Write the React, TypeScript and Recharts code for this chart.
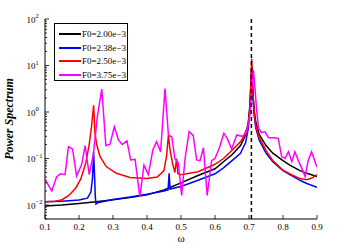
import { LineChart, Line, XAxis, YAxis, ReferenceLine } from "recharts";

// omega grid and power readings for each forcing amplitude
const F200_W = [0.1, 0.15, 0.2, 0.25, 0.3, 0.35, 0.4, 0.45, 0.5, 0.55, 0.6, 0.625, 0.65, 0.675, 0.69, 0.698, 0.703, 0.706, 0.708, 0.711, 0.715, 0.72, 0.73, 0.75, 0.77, 0.8, 0.82, 0.85, 0.87, 0.9];
const F200_P = [0.0095, 0.01, 0.0108, 0.0118, 0.013, 0.0145, 0.0165, 0.021, 0.03, 0.043, 0.06, 0.085, 0.12, 0.19, 0.32, 0.6, 1.5, 5, 10, 3, 1.1, 0.6, 0.33, 0.19, 0.13, 0.09, 0.072, 0.055, 0.048, 0.041];

const F238_W = [0.1, 0.15, 0.2, 0.225, 0.235, 0.24, 0.243, 0.245, 0.248, 0.25, 0.255, 0.3, 0.35, 0.4, 0.45, 0.462, 0.465, 0.468, 0.5, 0.55, 0.6, 0.625, 0.65, 0.675, 0.69, 0.698, 0.703, 0.706, 0.708, 0.711, 0.715, 0.72, 0.73, 0.75, 0.77, 0.8, 0.82, 0.85, 0.87, 0.9];
const F238_P = [0.0118, 0.012, 0.0128, 0.014, 0.019, 0.04, 0.14, 0.06, 0.015, 0.0105, 0.0112, 0.0132, 0.0148, 0.017, 0.02, 0.021, 0.048, 0.022, 0.025, 0.034, 0.047, 0.063, 0.09, 0.13, 0.22, 0.45, 1.2, 4, 9, 2.5, 0.9, 0.45, 0.25, 0.13, 0.085, 0.055, 0.045, 0.034, 0.029, 0.024];

const F250_W = [0.1, 0.13, 0.15, 0.17, 0.19, 0.205, 0.22, 0.23, 0.237, 0.243, 0.247, 0.252, 0.262, 0.28, 0.31, 0.35, 0.4, 0.43, 0.45, 0.458, 0.463, 0.468, 0.475, 0.482, 0.487, 0.491, 0.5, 0.55, 0.6, 0.625, 0.65, 0.675, 0.685, 0.69, 0.692, 0.698, 0.703, 0.706, 0.708, 0.711, 0.715, 0.72, 0.73, 0.75, 0.77, 0.8, 0.83, 0.85, 0.87, 0.885, 0.9];
const F250_P = [0.0118, 0.012, 0.013, 0.016, 0.023, 0.036, 0.08, 0.2, 0.5, 1.4, 0.35, 0.2, 0.11, 0.067, 0.048, 0.039, 0.037, 0.04, 0.055, 0.12, 0.32, 0.15, 0.08, 0.05, 0.1, 0.047, 0.045, 0.052, 0.075, 0.1, 0.15, 0.23, 0.3, 0.38, 0.33, 0.55, 1.3, 5, 14, 3, 1.0, 0.5, 0.28, 0.15, 0.09, 0.056, 0.043, 0.037, 0.035, 0.038, 0.045];

const F375_W = [0.1, 0.12, 0.134, 0.146, 0.159, 0.169, 0.181, 0.193, 0.208, 0.218, 0.23, 0.242, 0.254, 0.267, 0.279, 0.291, 0.304, 0.316, 0.327, 0.341, 0.352, 0.365, 0.379, 0.391, 0.404, 0.417, 0.428, 0.44, 0.453, 0.463, 0.473, 0.482, 0.492, 0.502, 0.512, 0.524, 0.536, 0.546, 0.556, 0.566, 0.577, 0.59, 0.6, 0.613, 0.626, 0.637, 0.649, 0.664, 0.679, 0.69, 0.697, 0.703, 0.708, 0.713, 0.718, 0.722, 0.728, 0.737, 0.747, 0.757, 0.771, 0.786, 0.796, 0.806, 0.816, 0.826, 0.835, 0.845, 0.855, 0.865, 0.874, 0.884, 0.894, 0.9];
const F375_P = [0.036, 0.02, 0.04, 0.047, 0.045, 0.18, 0.16, 0.042, 0.075, 0.19, 0.045, 0.12, 0.8, 3.1, 0.19, 0.2, 0.48, 0.25, 0.2, 0.24, 0.093, 0.096, 0.015, 0.072, 0.045, 0.15, 0.23, 0.14, 3.2, 0.32, 0.29, 0.1, 0.08, 0.016, 0.1, 0.38, 0.31, 0.093, 0.09, 0.17, 0.016, 0.09, 0.1, 0.17, 0.35, 0.26, 0.16, 0.32, 0.3, 0.34, 0.5, 0.9, 3, 8, 3, 1.2, 0.45, 0.36, 0.38, 0.28, 0.28, 0.27, 0.11, 0.1, 0.14, 0.086, 0.14, 0.09, 0.062, 0.041, 0.09, 0.14, 0.086, 0.065];

const LABELS = ["F0=2.00e\u22123", "F0=2.38e\u22123", "F0=2.50e\u22123", "F0=3.75e\u22123"];
const COLORS = ["#000000", "#0000ff", "#ff0000", "#ff00ff"];

const X_TICKS = [0.1, 0.2, 0.3, 0.4, 0.5, 0.6, 0.7, 0.8, 0.9];
const Y_MAJOR = [0.01, 0.1, 1, 10, 100];
const Y_MINOR_MULT = [2, 3, 4, 5, 6, 7, 8, 9];
const Y_TICKS = [0.005, 0.006, 0.007, 0.008, 0.009, ...Y_MAJOR.flatMap((m) => (m < 100 ? [m, ...Y_MINOR_MULT.map((k) => +(m * k).toPrecision(3))] : [m]))];
const RESONANCE = 0.7071;

const toRows = (w: number[], p: number[]) => w.map((x, i) => ({ x, y: p[i] }));
const SERIES = [
  toRows(F200_W, F200_P),
  toRows(F238_W, F238_P),
  toRows(F250_W, F250_P),
  toRows(F375_W, F375_P),
];

const SERIF = "'Liberation Serif', 'DejaVu Serif', serif";

const isMajor = (v: number) => {
  const e = Math.log10(v);
  return Math.abs(e - Math.round(e)) < 1e-6;
};

function LeftTick({ x, y, payload }: any) {
  const v = payload.value;
  const major = isMajor(v);
  const e = Math.round(Math.log10(v));
  return (
    <g>
      <line x1={x} x2={x + (major ? 4 : 2)} y1={y} y2={y} stroke="#000" strokeWidth={0.8} />
      {major && (
        <text x={x - 18.5} y={y + 3.5} fontSize={9} fontFamily={SERIF} fill="#000">
          10
          <tspan dy={-4.5} fontSize={6.5}>
            {e < 0 ? `\u2212${-e}` : `${e}`}
          </tspan>
        </text>
      )}
    </g>
  );
}

function RightTick({ x, y, payload }: any) {
  const major = isMajor(payload.value);
  return <line x1={x} x2={x - (major ? 4 : 2)} y1={y} y2={y} stroke="#000" strokeWidth={0.8} />;
}

function BottomTick({ x, y, payload }: any) {
  return (
    <g>
      <line x1={x} x2={x} y1={y} y2={y - 4} stroke="#000" strokeWidth={0.8} />
      <text x={x} y={y + 11} textAnchor="middle" fontSize={9} fontFamily={SERIF} fill="#000">
        {payload.value.toFixed(1)}
      </text>
    </g>
  );
}

function TopTick({ x, y }: any) {
  return <line x1={x} x2={x} y1={y} y2={y + 4} stroke="#000" strokeWidth={0.8} />;
}

export default function App() {
  return (
    <div style={{ position: "absolute", left: 0, top: 0, width: 350, height: 248, background: "#fff" }}>
      <LineChart width={350} height={248} margin={{ top: 19, right: 33, bottom: 0, left: 0 }}>
        <XAxis
          xAxisId="b"
          dataKey="x"
          type="number"
          domain={[0.1, 0.9]}
          ticks={X_TICKS}
          interval={0}
          height={29}
          tickSize={0}
          tickMargin={0}
          tickLine={false}
          tick={<BottomTick />}
          stroke="#000"
          allowDataOverflow
        />
        <XAxis
          xAxisId="t"
          orientation="top"
          type="number"
          domain={[0.1, 0.9]}
          ticks={X_TICKS}
          interval={0}
          height={0}
          tickSize={0}
          tickMargin={0}
          tickLine={false}
          tick={<TopTick />}
          stroke="#000"
          allowDataOverflow
        />
        <YAxis
          yAxisId="l"
          type="number"
          scale="log"
          domain={[0.005, 100]}
          ticks={Y_TICKS}
          interval={0}
          width={45}
          tickSize={0}
          tickMargin={0}
          tickLine={false}
          tick={<LeftTick />}
          stroke="#000"
          allowDataOverflow
        />
        <YAxis
          yAxisId="r"
          orientation="right"
          type="number"
          scale="log"
          domain={[0.005, 100]}
          ticks={Y_TICKS}
          interval={0}
          width={0}
          tickSize={0}
          tickMargin={0}
          tickLine={false}
          tick={<RightTick />}
          stroke="#000"
          allowDataOverflow
        />
        {SERIES.map((rows, i) => (
          <Line
            key={LABELS[i]}
            xAxisId="b"
            yAxisId="l"
            data={rows}
            dataKey="y"
            type="linear"
            stroke={COLORS[i]}
            strokeWidth={1.5}
            dot={false}
            isAnimationActive={false}
          />
        ))}
        <ReferenceLine xAxisId="b" yAxisId="l" x={RESONANCE} stroke="#000" strokeWidth={1.5} strokeDasharray="4 3" />
      </LineChart>
      <div
        style={{
          position: "absolute",
          left: 54,
          top: 23,
          width: 72,
          height: 56,
          border: "1.5px solid #000",
          background: "#fff",
          fontFamily: SERIF,
          fontSize: 9,
        }}
      >
        {LABELS.map((label, i) => (
          <div key={label} style={{ position: "absolute", left: 4, top: 4 + i * 13.7, height: 12, display: "flex", alignItems: "center" }}>
            <span style={{ display: "inline-block", width: 22, height: 2, background: COLORS[i], marginRight: 1 }} />
            <span style={{ whiteSpace: "nowrap" }}>{label}</span>
          </div>
        ))}
      </div>
      <svg width={30} height={248} style={{ position: "absolute", left: 0, top: 0 }}>
        <text
          x={0}
          y={0}
          transform="translate(13, 119) rotate(-90)"
          textAnchor="middle"
          fontFamily={SERIF}
          fontSize={12}
          fontWeight="bold"
          fontStyle="italic"
          fill="#000"
        >
          Power Spectrum
        </text>
      </svg>
      <div style={{ position: "absolute", left: 0, width: 362, top: 232, textAlign: "center", fontFamily: SERIF, fontSize: 11 }}>
        ω
      </div>
    </div>
  );
}
